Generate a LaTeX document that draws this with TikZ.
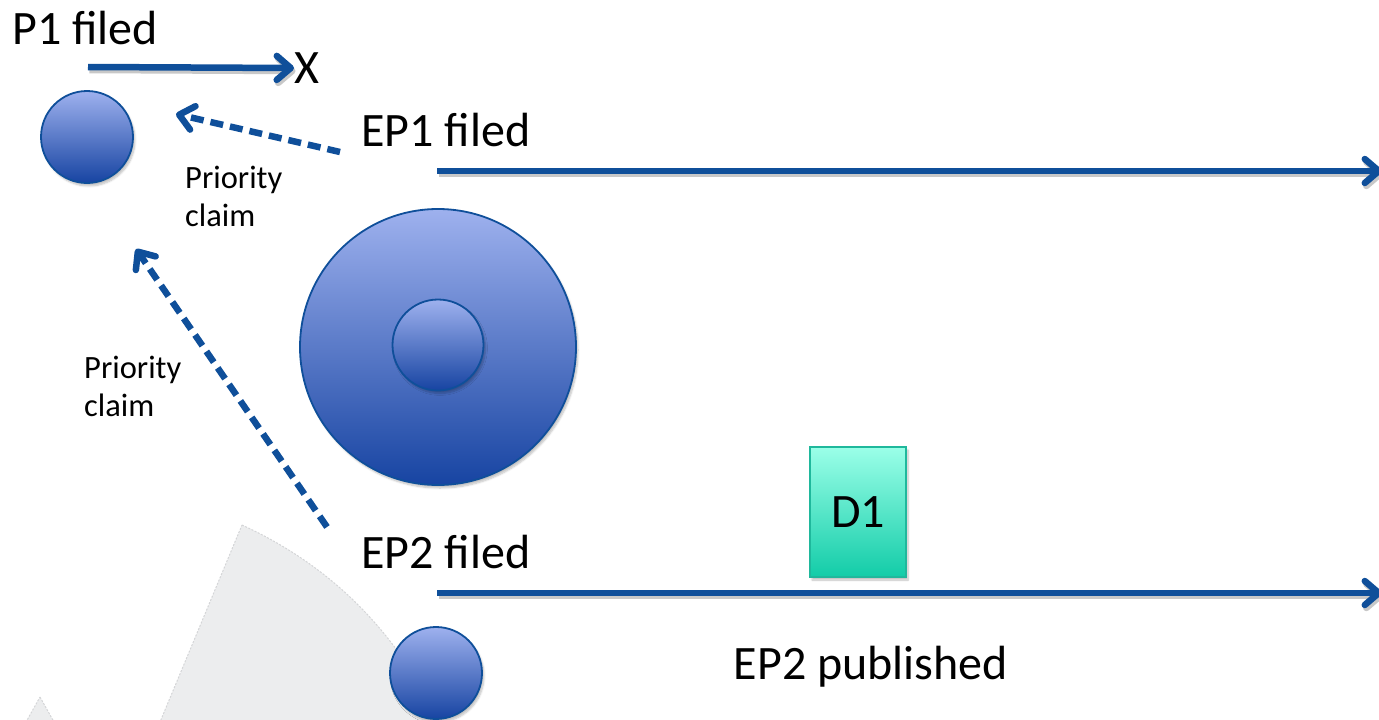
\documentclass[tikz,border=0pt]{standalone}
\usepackage{fontspec}
\setmainfont{Carlito}
\usetikzlibrary{arrows.meta,shadows.blur}
\definecolor{lineblue}{HTML}{0F4F9A}
\definecolor{ctop}{HTML}{9EB1EE}
\definecolor{cbot}{HTML}{1744A2}
\definecolor{dtop}{HTML}{9BFFE8}
\definecolor{dbot}{HTML}{12CCA8}
\definecolor{dborder}{HTML}{1FB89C}
\definecolor{greyfill}{HTML}{ECEDEE}
\definecolor{greyedge}{HTML}{D4D5D7}
\definecolor{lineshadow}{HTML}{C8C8C8}
\tikzset{
  bigtext/.style={font=\fontsize{48}{56}\selectfont, inner sep=0pt},
  smalltext/.style={font=\fontsize{32.5}{38}\selectfont, inner sep=0pt, align=left},
  ball/.style={circle, draw=lineblue, line width=1.8pt, shading=axis, top color=ctop, bottom color=cbot, inner sep=0pt,
    blur shadow={shadow xshift=2pt, shadow yshift=-3pt, shadow blur steps=6, shadow opacity=25}},
  barb/.style={-{Straight Barb[length=14pt,width=24pt,line width=6.5pt,round]}},
  timeline/.style={draw=lineblue, line width=6.5pt, barb,
    preaction={draw=lineshadow, line width=6.5pt, transform canvas={shift={(1.5pt,-3pt)}}}},
  claim/.style={draw=lineblue, line width=6.5pt, dash pattern=on 13pt off 7pt, barb},
  doc/.style={draw=dborder, line width=1.5pt, shading=axis, top color=dtop, bottom color=dbot, inner sep=0pt,
    minimum width=96pt, minimum height=130pt,
    blur shadow={shadow xshift=2pt, shadow yshift=-3pt, shadow blur steps=6, shadow opacity=25}},
  greyshape/.style={fill=greyfill, draw=greyedge, line width=1pt, dash pattern=on 2pt off 1.5pt}
}
\begin{document}
\begin{tikzpicture}[x=1pt,y=-1pt]
\useasboundingbox (0,0) rectangle (1379,720);
% grey background shapes
\draw[greyshape] (242,525) .. controls (340,570) and (400,640) .. (440,722) -- (160,722) -- cycle;
\draw[greyshape] (40,697) -- (54,722) -- (26,722) -- cycle;

% P1
\node[bigtext] (p1label) at (85,28) {P1 filed};
\node[ball, minimum size=92pt] (p1) at (87,137) {};
\coordinate (p1start) at (88,67);
\node[bigtext, anchor=west] (x) at (294,68) {X};
\draw[timeline] (p1start) -- (x.west);

% EP1
\node[bigtext] (ep1label) at (446,130) {EP1 filed};
\coordinate (ep1start) at (437,171);
\coordinate (ep1end) at (1382,171);
\draw[timeline] (ep1start) -- (ep1end);
\node[ball, minimum size=276pt] (ep1big) at (438,347) {};
\node[ball, minimum size=91pt] (ep1small) at (438,345) {};

% priority claims
\coordinate (c1start) at (340,152);
\coordinate (c1end) at (176,114);
\draw[claim] (c1start) -- (c1end);
\node[smalltext, anchor=north west] (pc1) at (185,166) {Priority\\claim};

\coordinate (c2start) at (327,527);
\coordinate (c2end) at (136,249);
\draw[claim] (c2start) -- (c2end);
\node[smalltext, anchor=north west] (pc2) at (84,356) {Priority\\claim};

% EP2
\node[bigtext] (ep2label) at (446,552) {EP2 filed};
\coordinate (ep2start) at (437,593);
\coordinate (ep2end) at (1382,593);
\draw[timeline] (ep2start) -- (ep2end);
\node[doc] (d1) at (858,512) {};
\node[bigtext] at (d1.center) {D1};
\node[bigtext] (pub) at (871,667) {EP2 published};
\node[ball, minimum size=92pt] (ep2) at (436,673) {};
\end{tikzpicture}
\end{document}
